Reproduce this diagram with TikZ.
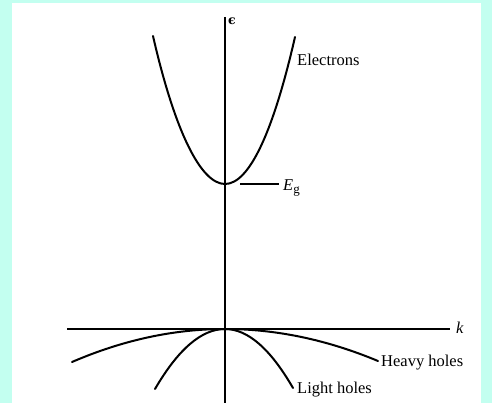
\documentclass[tikz,border=0pt]{standalone}
\usepackage{fontspec}
\setmainfont{Liberation Serif}
\newfontfamily\greekserif{DejaVu Serif}
\definecolor{bgcyan}{RGB}{195,255,240}
\begin{document}
\begin{tikzpicture}[x=1pt,y=-1pt,
  axis/.style={line width=1.3pt,black},
  band/.style={line width=2pt,black,line cap=round},
  lbl/.style={font=\fontsize{16.5}{19}\selectfont,inner sep=1pt}]
\fill[bgcyan] (0,0) rectangle (492,403);
\fill[white] (12,3) rectangle (481,403);
\useasboundingbox (0,0) rectangle (492,403);
% axes
\coordinate (ytop) at (225,17);
\coordinate (ybot) at (225,403);
\coordinate (xl) at (67,329);
\coordinate (xr) at (450,329);
\draw[axis] (ytop) -- (ybot);
\draw[axis] (xl) -- (xr);
\node[anchor=west,inner sep=1pt,font=\greekserif\bfseries\fontsize{12.5}{14}\selectfont] (eps) at (227,21) {ϵ};
\node[lbl,anchor=west] (klab) at (455,328) {\textit{k}};
% electrons
\coordinate (eL) at (153,36);
\coordinate (eV) at (225,184);
\coordinate (eR) at (295,37);
\draw[band] (eL) .. controls (175,132) and (201,184) .. (eV)
                 .. controls (249,184) and (273,133) .. (eR);
\node[lbl,anchor=west] (elec) at (296,60) {Electrons};
% gap
\coordinate (g0) at (240,184);
\coordinate (g1) at (279,184);
\draw[line width=1.3pt] (g0) -- (g1);
\node[lbl,anchor=west] (eg) at (282,188) {\textit{E}\raisebox{-3.5pt}{\fontsize{13}{15}\selectfont g}};
% heavy holes
\coordinate (hL) at (72,362);
\coordinate (hV) at (225,329);
\coordinate (hR) at (378,361);
\draw[band] (hL) .. controls (123,340) and (174,329) .. (hV)
                 .. controls (276,329) and (327,339.7) .. (hR);
\node[lbl,anchor=west] (heavy) at (380,363) {Heavy holes};
% light holes
\coordinate (lL) at (155,389);
\coordinate (lR) at (293,388);
\draw[band] (lL) .. controls (178.3,349) and (201.7,329) .. (hV)
                 .. controls (247.7,329) and (270.3,348.7) .. (lR);
\node[lbl,anchor=west] (light) at (296,390) {Light holes};
\end{tikzpicture}
\end{document}
